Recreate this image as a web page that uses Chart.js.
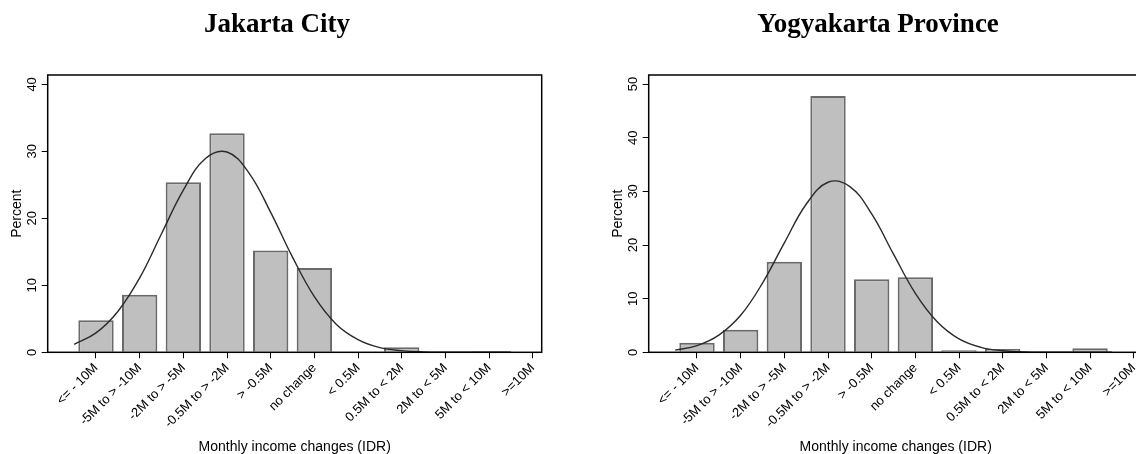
<!DOCTYPE html>
<html>
<head>
<meta charset="utf-8">
<script src="https://cdn.jsdelivr.net/npm/chart.js@4"></script>
<style>
html,body{margin:0;padding:0;background:#fff;overflow:hidden;width:1136px;height:454px;}
.panel{position:absolute;top:0;width:568px;height:454px;}
.panel canvas{position:absolute;left:0;top:0;}
.ttl{position:absolute;top:10px;left:0;width:554px;text-align:center;font:bold 27px 'Liberation Serif',serif;line-height:27px;color:#000;white-space:nowrap;z-index:2;}
</style>
</head>
<body>
<div class="panel" style="left:0px"><canvas id="c1" width="568" height="454"></canvas><div class="ttl">Jakarta City</div></div>
<div class="panel" style="left:601px"><canvas id="c2" width="568" height="454"></canvas><div class="ttl">Yogyakarta Province</div></div>
<script>
// ---- data ----
const categories = ["<= - 10M", "-5M to > -10M", "-2M to > -5M", "-0.5M to > -2M", "> -0.5M", "no change", "< 0.5M", "0.5M to < 2M", "2M to < 5M", "5M to < 10M", ">=10M"];
const jakartaPercent    = [4.8, 8.6, 25.4, 32.7, 15.2, 12.6, 0, 0.75, 0, 0.15, 0];
const yogyakartaPercent = [1.8, 4.2, 16.9, 47.8, 13.6, 14.0, 0.37, 0.62, 0, 0.75, 0];
// normal-density overlay at half-category steps
const curveX          = [-0.5, 0, 0.5, 1, 1.5, 2, 2.5, 3, 3.5, 4, 4.5, 5, 5.5, 6, 6.5, 7, 7.5, 8, 8.5, 9, 9.5];
const jakartaNormal    = [1.2, 2.9, 6.1, 11.1, 17.7, 24.2, 28.9, 29.9, 26.8, 20.9, 14.2, 8.3, 4.2, 1.9, 0.7, 0.25, 0.07, 0.02, 0, 0, 0];
const yogyakartaNormal = [0.4, 1.24, 3.2, 6.9, 12.9, 20.4, 27.6, 31.7, 30.9, 25.8, 18.3, 11.0, 5.7, 2.5, 0.93, 0.29, 0.08, 0.02, 0, 0, 0];
const jakartaYTicks    = [0, 10, 20, 30, 40];
const yogyakartaYTicks = [0, 10, 20, 30, 40, 50];
const jakartaYMax = 41.4;
const yogyakartaYMax = 51.7;
const xMin = -1.106, xMax = 10.206;

Chart.defaults.font.family = "'Liberation Sans', Arial, Helvetica, sans-serif";
Chart.defaults.font.size = 13;
Chart.defaults.color = '#000';

const framePlugin = {
  id: 'frame',
  afterDatasetsDraw(chart) {
    const {ctx, chartArea: a} = chart;
    ctx.save();
    ctx.strokeStyle = '#000';
    ctx.lineWidth = 1.5;
    ctx.strokeRect(a.left, a.top, a.right - a.left, a.bottom - a.top);
    ctx.restore();
  }
};

function makeChart(id, pct, normal, yTicks, yMax) {
  const gridOpts = {display: true, offset: false, drawOnChartArea: false, drawTicks: true, tickLength: 6, color: '#000', lineWidth: 1};
  return new Chart(document.getElementById(id), {
    type: 'bar',
    data: {
      datasets: [
        {
          type: 'line',
          data: curveX.map((x, i) => ({x: x, y: normal[i]})),
          borderColor: '#2a2a2a', borderWidth: 1.4, pointRadius: 0, tension: 0.4, fill: false, order: 0
        },
        {
          type: 'bar',
          data: categories.map((c, i) => ({x: i, y: pct[i]})),
          backgroundColor: '#bfbfbf', borderColor: '#6a6a6a', borderWidth: 2,
          barPercentage: 0.81, categoryPercentage: 1.0, order: 1
        }
      ]
    },
    options: {
      responsive: false,
      animation: false,
      events: [],
      layout: {padding: {left: 0, top: 75, right: 26.3, bottom: 0}},
      plugins: {legend: {display: false}, tooltip: {enabled: false}, title: {display: false}},
      scales: {
        x: {
          type: 'linear', min: xMin, max: xMax, offset: false,
          afterBuildTicks: s => { s.ticks = categories.map((c, i) => ({value: i})); },
          afterFit: s => { s.height = 101.7; },
          ticks: {autoSkip: false, minRotation: 45, maxRotation: 45, padding: 2, callback: v => categories[v]},
          grid: gridOpts,
          border: {display: false},
          title: {display: true, text: 'Monthly income changes (IDR)', font: {size: 14, lineHeight: 1}, padding: {top: 0, bottom: 0}}
        },
        y: {
          type: 'linear', min: 0, max: yMax,
          afterBuildTicks: s => { s.ticks = yTicks.map(v => ({value: v})); },
          afterFit: s => { s.width = 47.7; },
          ticks: {minRotation: 90, maxRotation: 90, crossAlign: 'center', padding: 2},
          grid: gridOpts,
          border: {display: false},
          title: {display: true, text: 'Percent', font: {size: 14}, padding: {top: 9, bottom: 0}}
        }
      }
    },
    plugins: [framePlugin]
  });
}

makeChart('c1', jakartaPercent, jakartaNormal, jakartaYTicks, jakartaYMax);
makeChart('c2', yogyakartaPercent, yogyakartaNormal, yogyakartaYTicks, yogyakartaYMax);
</script>
</body>
</html>
